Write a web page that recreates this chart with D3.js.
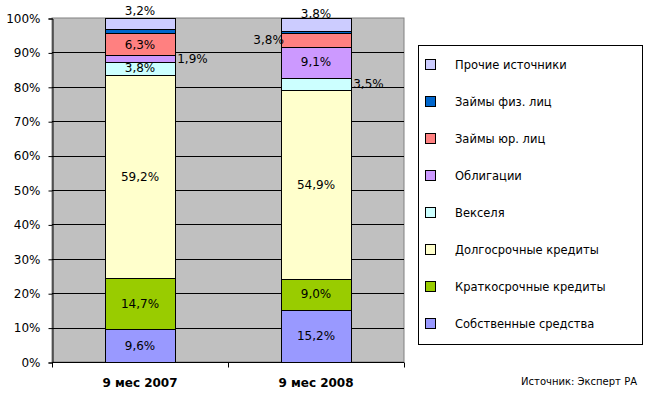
<!DOCTYPE html>
<html>
<head>
<meta charset="utf-8">
<script src="https://cdn.jsdelivr.net/npm/d3@7"></script>
<style>
  body { margin: 0; background: #fff; }
  svg { font-family: "DejaVu Sans", Verdana, sans-serif; }
</style>
</head>
<body>
<script>
// categories and series (bottom to top)
var categories = ["9 мес 2007", "9 мес 2008"];
var seriesNames = ["Собственные средства", "Краткосрочные кредиты", "Долгосрочные кредиты",
                   "Векселя", "Облигации", "Займы юр. лиц", "Займы физ. лиц", "Прочие источники"];
var seriesColors = ["#9999ff", "#99cc00", "#ffffcc", "#ccffff", "#cc99ff", "#ff8080", "#0066cc", "#ccccff"];
var values2007 = [9.6, 14.7, 59.2, 3.8, 1.9, 6.3, 1.3, 3.2];
var values2008 = [15.2, 9.0, 54.9, 3.5, 9.1, 3.8, 0.7, 3.8];
var yTicks = [0, 10, 20, 30, 40, 50, 60, 70, 80, 90, 100];

// where each label sits: in / right / left / top / none
var labelPos2007 = ["in", "in", "in", "in", "right", "in", "none", "top"];
var labelPos2008 = ["in", "in", "in", "right", "in", "left", "none", "top2"];

var W = 649, H = 393;
var plot = {left: 52, right: 404, top: 18, bottom: 362};

var svg = d3.select("body").append("svg")
    .attr("width", W).attr("height", H);

var x = d3.scaleBand()
    .domain(categories)
    .range([plot.left, plot.right])
    .paddingInner(0.6)
    .paddingOuter(0.3);

var y = d3.scaleLinear()
    .domain([0, 100])
    .range([plot.bottom, plot.top]);

// plot background
svg.append("rect")
    .attr("x", plot.left).attr("y", plot.top)
    .attr("width", plot.right - plot.left).attr("height", plot.bottom - plot.top)
    .attr("fill", "#c0c0c0")
    .attr("stroke", "#808080");

// gridlines
svg.selectAll("line.grid")
  .data(yTicks.slice(1, -1))
  .enter().append("line")
    .attr("class", "grid")
    .attr("x1", plot.left).attr("x2", plot.right)
    .attr("y1", function(d) { return Math.round(y(d)) + 0.5; })
    .attr("y2", function(d) { return Math.round(y(d)) + 0.5; })
    .attr("stroke", "#000");

// stacked data
var table = categories.map(function(c, i) {
  var vals = i == 0 ? values2007 : values2008;
  var pos = i == 0 ? labelPos2007 : labelPos2008;
  var acc = 0;
  return vals.map(function(v, k) {
    var seg = {cat: c, k: k, v: v, y0: acc, y1: acc + v, pos: pos[k]};
    acc += v;
    return seg;
  });
});
var segs = [].concat.apply([], table);

svg.selectAll("rect.seg")
  .data(segs)
  .enter().append("rect")
    .attr("class", "seg")
    .attr("x", function(d) { return Math.round(x(d.cat)) + 0.5; })
    .attr("width", Math.round(x.bandwidth()))
    .attr("y", function(d) { return Math.round(y(d.y1)) + 0.5; })
    .attr("height", function(d) { return Math.round(y(d.y0)) - Math.round(y(d.y1)); })
    .attr("fill", function(d) { return seriesColors[d.k]; })
    .attr("stroke", "#000");

// value labels
function fmt(v) { return v.toFixed(1).replace(".", ",") + "%"; }

svg.selectAll("text.val")
  .data(segs.filter(function(d) { return d.pos != "none"; }))
  .enter().append("text")
    .attr("class", "val")
    .attr("font-size", 12)
    .attr("dy", "0.35em")
    .attr("x", function(d) {
      var bx = x(d.cat), bw = x.bandwidth();
      if (d.pos == "right") return bx + bw + 2;
      if (d.pos == "left") return bx + 3;
      return bx + bw / 2;
    })
    .attr("y", function(d) {
      if (d.pos == "top") return y(100) - 7;
      if (d.pos == "top2") return y(100) - 4;
      return y((d.y0 + d.y1) / 2);
    })
    .attr("text-anchor", function(d) {
      if (d.pos == "right") return "start";
      if (d.pos == "left") return "end";
      return "middle";
    })
    .text(function(d) { return fmt(d.v); });

// y axis
var yAxis = svg.append("g")
    .attr("transform", "translate(" + (plot.left + 0.5) + ",0.5)")
    .call(d3.axisLeft(y).tickValues(yTicks).tickSize(4).tickPadding(8)
      .tickFormat(function(d) { return d + "%"; }));
yAxis.selectAll("text").attr("font-size", 12).attr("fill", "#000")
    .attr("font-family", "DejaVu Sans");
yAxis.selectAll("line, path").attr("stroke", "#000");

// x axis
var xAxis = svg.append("g")
    .attr("transform", "translate(0," + (plot.bottom + 0.5) + ")");
xAxis.append("line")
    .attr("x1", plot.left).attr("x2", plot.right)
    .attr("stroke", "#000");
xAxis.selectAll("line.tick")
  .data([plot.left, (plot.left + plot.right) / 2, plot.right])
  .enter().append("line")
    .attr("class", "tick")
    .attr("x1", function(d) { return d + 0.5; })
    .attr("x2", function(d) { return d + 0.5; })
    .attr("y1", 0).attr("y2", 5)
    .attr("stroke", "#000");
xAxis.selectAll("text")
  .data(categories)
  .enter().append("text")
    .attr("x", function(d) { return x(d) + x.bandwidth() / 2; })
    .attr("y", 24)
    .attr("text-anchor", "middle")
    .attr("font-size", 12)
    .attr("font-weight", "bold")
    .text(function(d) { return d; });

// legend
var legend = svg.append("g");
legend.append("rect")
    .attr("x", 418.5).attr("y", 45.5)
    .attr("width", 224).attr("height", 299)
    .attr("fill", "#fff").attr("stroke", "#000");

var legendItems = seriesNames.map(function(n, k) { return k; }).reverse();
var ly = d3.scalePoint()
    .domain(legendItems)
    .range([64.5, 323.5]);

var li = legend.selectAll("g.item")
  .data(legendItems)
  .enter().append("g")
    .attr("class", "item")
    .attr("transform", function(d) { return "translate(0," + ly(d) + ")"; });
li.append("rect")
    .attr("x", 425.5).attr("y", -5)
    .attr("width", 10).attr("height", 10)
    .attr("fill", function(d) { return seriesColors[d]; })
    .attr("stroke", "#000");
li.append("text")
    .attr("x", 455)
    .attr("dy", "0.35em")
    .attr("font-size", 11.5)
    .text(function(d) { return seriesNames[d]; });

// source
svg.append("text")
    .attr("x", 637).attr("y", 385)
    .attr("text-anchor", "end")
    .attr("font-size", 10)
    .text("Источник: Эксперт РА");
</script>
</body>
</html>
